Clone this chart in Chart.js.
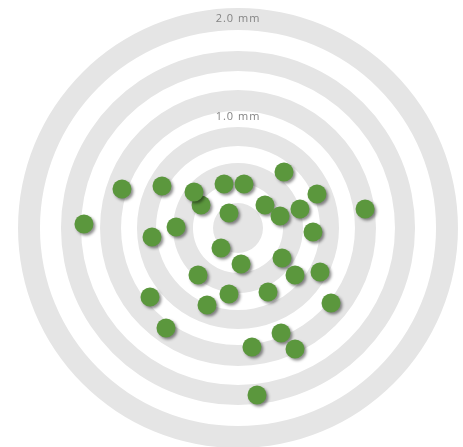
<!DOCTYPE html>
<html>
<head>
<meta charset="utf-8">
<script src="https://cdn.jsdelivr.net/npm/chart.js@4/dist/chart.umd.min.js"></script>
<style>
  body { margin: 0; background: #ffffff; }
  #wrap { width: 463px; height: 447px; }
</style>
</head>
<body>
<div id="wrap"><canvas id="chart-canvas" width="463" height="447"></canvas></div>
<script>
// Shot positions in mm (x right, y up)
const shotX = [
  -0.352, 0.438, -1.105, -0.724, -0.419, -0.133, 0.057, 0.752, 1.210, 0.257,
  0.400, 0.590, -0.086, -1.467, -0.590, -0.819, 0.714, -0.162, 0.029, 0.419,
  -0.381, 0.543, 0.781, -0.838, -0.295, -0.086, 0.286, 0.886, -0.686, 0.410,
  0.133, 0.543, 0.181
];
const shotY = [
  0.219, 0.533, 0.371, 0.400, 0.343, 0.419, 0.419, 0.324, 0.181, 0.219,
  0.114, 0.181, 0.143, 0.038, 0.010, -0.086, -0.038, -0.190, -0.343, -0.286,
  -0.448, -0.448, -0.419, -0.657, -0.733, -0.629, -0.610, -0.714, -0.952, -1.000,
  -1.133, -1.152, -1.590
];

// Target ring bands (inner / outer radius, mm); the first is the centre disc
const ringInner = [0, 0.429, 0.781, 1.114, 1.495, 1.886];
const ringOuter = [0.238, 0.619, 0.962, 1.314, 1.686, 2.095];

// Distance labels
const distLabels = ["2.0 mm", "1.0 mm"];
const distValues = [2.0, 1.0];

const points = shotX.map((x, i) => ({ x: x, y: shotY[i] }));

// Draws the target rings and distance labels behind the shots
const targetPlugin = {
  id: "target",
  beforeDatasetsDraw(chart, args, opts) {
    const ctx = chart.ctx;
    const xs = chart.scales.x;
    const ys = chart.scales.y;
    const cx = xs.getPixelForValue(0);
    const cy = ys.getPixelForValue(0);
    ctx.save();
    ctx.fillStyle = "#e5e5e5";
    for (let i = 0; i < ringOuter.length; i++) {
      const ro = xs.getPixelForValue(ringOuter[i]) - cx;
      const ri = xs.getPixelForValue(ringInner[i]) - cx;
      ctx.beginPath();
      ctx.arc(cx, cy, ro, 0, Math.PI * 2);
      if (ri > 0) {
        ctx.arc(cx, cy, ri, Math.PI * 2, 0, true);
      }
      ctx.fill("evenodd");
    }
    ctx.fillStyle = "#848484";
    ctx.font = "11px 'Open Sans'";
    ctx.letterSpacing = "1px";
    ctx.textAlign = "center";
    ctx.textBaseline = "middle";
    distLabels.forEach((label, i) => {
      // labels sit a little off their ring value, as in the original
      const y = ys.getPixelForValue(distValues[i] + opts.labelShift[i]);
      ctx.fillText(label, cx, y);
    });
    ctx.restore();
  },
  beforeDatasetDraw(chart) {
    const ctx = chart.ctx;
    ctx.save();
    ctx.shadowColor = "rgba(0, 0, 0, 0.45)";
    ctx.shadowBlur = 3;
    ctx.shadowOffsetX = 2;
    ctx.shadowOffsetY = 2;
  },
  afterDatasetDraw(chart) {
    chart.ctx.restore();
  },
};

const ctx = document.getElementById("chart-canvas").getContext("2d");
const myChart = new Chart(ctx, {
  type: "scatter",
  data: {
    datasets: [
      {
        label: "Shots",
        data: points,
        backgroundColor: "#5b973d",
        borderWidth: 0,
        pointRadius: 9.5,
        pointHoverRadius: 9.5,
      },
    ],
  },
  options: {
    responsive: false,
    animation: false,
    layout: { padding: 0, autoPadding: false },
    scales: {
      x: { type: "linear", display: false, min: -238 / 105, max: 225 / 105 },
      y: { type: "linear", display: false, min: -219 / 105, max: 228 / 105 },
    },
    plugins: {
      legend: { display: false },
      tooltip: { enabled: false },
      target: { labelShift: [-0.01, 0.06] },
    },
  },
  plugins: [targetPlugin],
});
</script>
</body>
</html>
